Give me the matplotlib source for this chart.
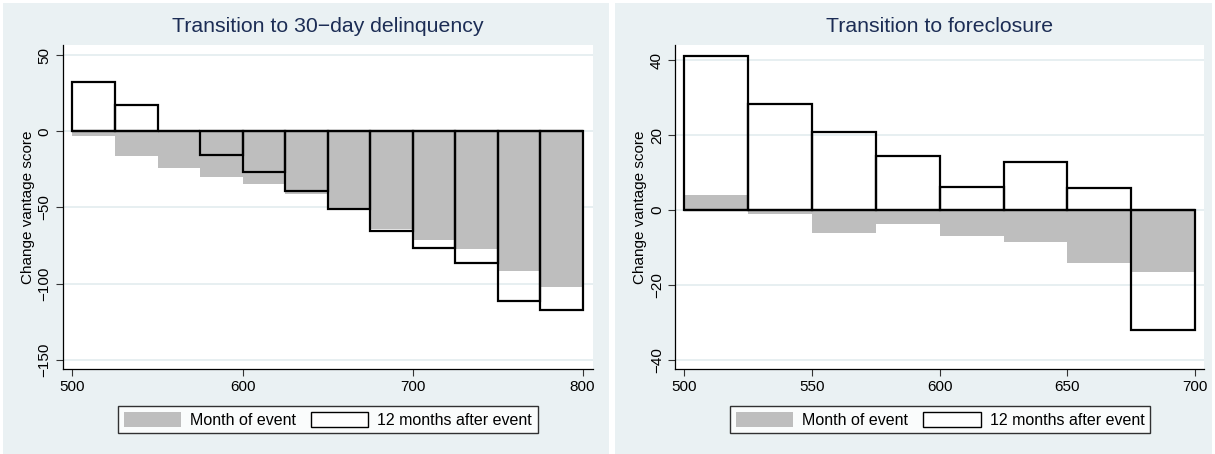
import matplotlib
matplotlib.use("Agg")
import matplotlib.pyplot as plt
from matplotlib.patches import Rectangle, Patch
import numpy as np

plt.rcParams['font.family'] = ['Liberation Sans', 'DejaVu Sans']
plt.rcParams['axes.unicode_minus'] = True

# ---- data ----
dq_bin_left = [500, 525, 550, 575, 600, 625, 650, 675, 700, 725, 750, 775]
dq_month = [-3.1, -16.4, -24.3, -30.0, -34.8, -41.4, -50.5, -64.1, -71.6, -77.5, -91.9, -102.2]
dq_12m = [32.2, 17.1, 0.0, -15.3, -26.5, -39.0, -50.8, -65.6, -76.8, -86.2, -111.2, -117.1]

fc_bin_left = [500, 525, 550, 575, 600, 625, 650, 675]
fc_month = [4.0, -1.0, -6.1, -3.7, -6.9, -8.5, -14.1, -16.5]
fc_12m = [41.1, 28.4, 20.9, 14.5, 6.1, 12.8, 5.9, -32.1]

bin_width = 25
titles = ["Transition to 30\u2212day delinquency", "Transition to foreclosure"]
ylabel = "Change vantage score"
legend_labels = ["Month of event", "12 months after event"]
dq_xticks = [500, 600, 700, 800]
dq_yticks = [-150, -100, -50, 0, 50]
fc_xticks = [500, 550, 600, 650, 700]
fc_yticks = [-40, -20, 0, 20, 40]

BG = '#eaf1f3'
GRID = '#e3ecef'
GRAY = '#bebebe'
TITLE_C = '#1c2d55'

W, H = 1215, 454
fig = plt.figure(figsize=(W / 100, H / 100), dpi=100, facecolor='white')

def fx(px):
    return px / W

def fy(py):
    return 1 - py / H

# panel backgrounds
fig.patches.append(Rectangle((fx(3.3), fy(453.5)), fx(609 - 3.3), (453.5 - 2.7) / H,
                             transform=fig.transFigure, facecolor=BG, edgecolor='none', zorder=-10))
fig.patches.append(Rectangle((fx(615.3), fy(453.5)), fx(1212 - 615.3), (453.5 - 2.7) / H,
                             transform=fig.transFigure, facecolor=BG, edgecolor='none', zorder=-10))

panels = [
    dict(left=62.8, right=592.6, bins=dq_bin_left, month=dq_month, after=dq_12m,
         xlim=(494.3, 805.9), ylim=(-156.4, 56.8), xticks=dq_xticks, yticks=dq_yticks,
         title=titles[0], leg=(116.7, 538.8)),
    dict(left=675.3, right=1204.1, bins=fc_bin_left, month=fc_month, after=fc_12m,
         xlim=(496.5, 703.5), ylim=(-42.6, 44.1), xticks=fc_xticks, yticks=fc_yticks,
         title=titles[1], leg=(729.5, 1150.8)),
]

top_px, bot_px = 45.0, 369.3
for p in panels:
    ax = fig.add_axes([fx(p['left']), fy(bot_px), fx(p['right'] - p['left']), (bot_px - top_px) / H])
    ax.set_facecolor('white')
    ax.set_xlim(*p['xlim'])
    ax.set_ylim(*p['ylim'])
    for yt in p['yticks']:
        ax.axhline(yt, color=GRID, lw=1.2, zorder=0)
    ax.bar(p['bins'], p['month'], width=bin_width, align='edge', color=GRAY,
           edgecolor='none', linewidth=0, zorder=2)
    ax.bar(p['bins'], p['after'], width=bin_width, align='edge', fill=False,
           edgecolor='black', linewidth=1.6, zorder=3)
    ax.plot([p['bins'][0], p['bins'][-1] + bin_width], [0, 0], color='black', lw=1.6, zorder=4,
            solid_capstyle='butt')
    for s in ['top', 'right']:
        ax.spines[s].set_visible(False)
    for s in ['left', 'bottom']:
        ax.spines[s].set_color('black')
        ax.spines[s].set_linewidth(0.9)
    ax.set_xticks(p['xticks'])
    ax.set_yticks(p['yticks'])
    ax.set_yticklabels([str(v).replace('-', '\u2212') for v in p['yticks']], rotation=90, va='center')
    ax.tick_params(axis='both', labelsize=11, length=4.7, width=0.8, color='#333333')
    ax.tick_params(axis='y', pad=3.5)
    ax.tick_params(axis='x', pad=2.8)
    ax.set_ylabel(ylabel, fontsize=11, labelpad=2)
    ax.set_title(p['title'], fontsize=15.3, color=TITLE_C, pad=9)

    l0, l1 = p['leg']
    lw_ = l1 - l0
    handles = [Patch(facecolor=GRAY, edgecolor='none', label=legend_labels[0]),
               Patch(facecolor='white', edgecolor='black', linewidth=1.0, label=legend_labels[1])]
    leg = fig.legend(handles=handles, ncol=2, loc='center',
                     bbox_to_anchor=(fx(l0 + lw_ / 2), fy(419.6)),
                     frameon=True, fancybox=False, edgecolor='black', facecolor='white',
                     fontsize=11.5, handlelength=3.6, handleheight=1.1, columnspacing=0.95,
                     handletextpad=0.55, borderpad=0.35, borderaxespad=0)
    leg.get_frame().set_linewidth(1.0)

fig.savefig('out.png', dpi=100, facecolor='white')
